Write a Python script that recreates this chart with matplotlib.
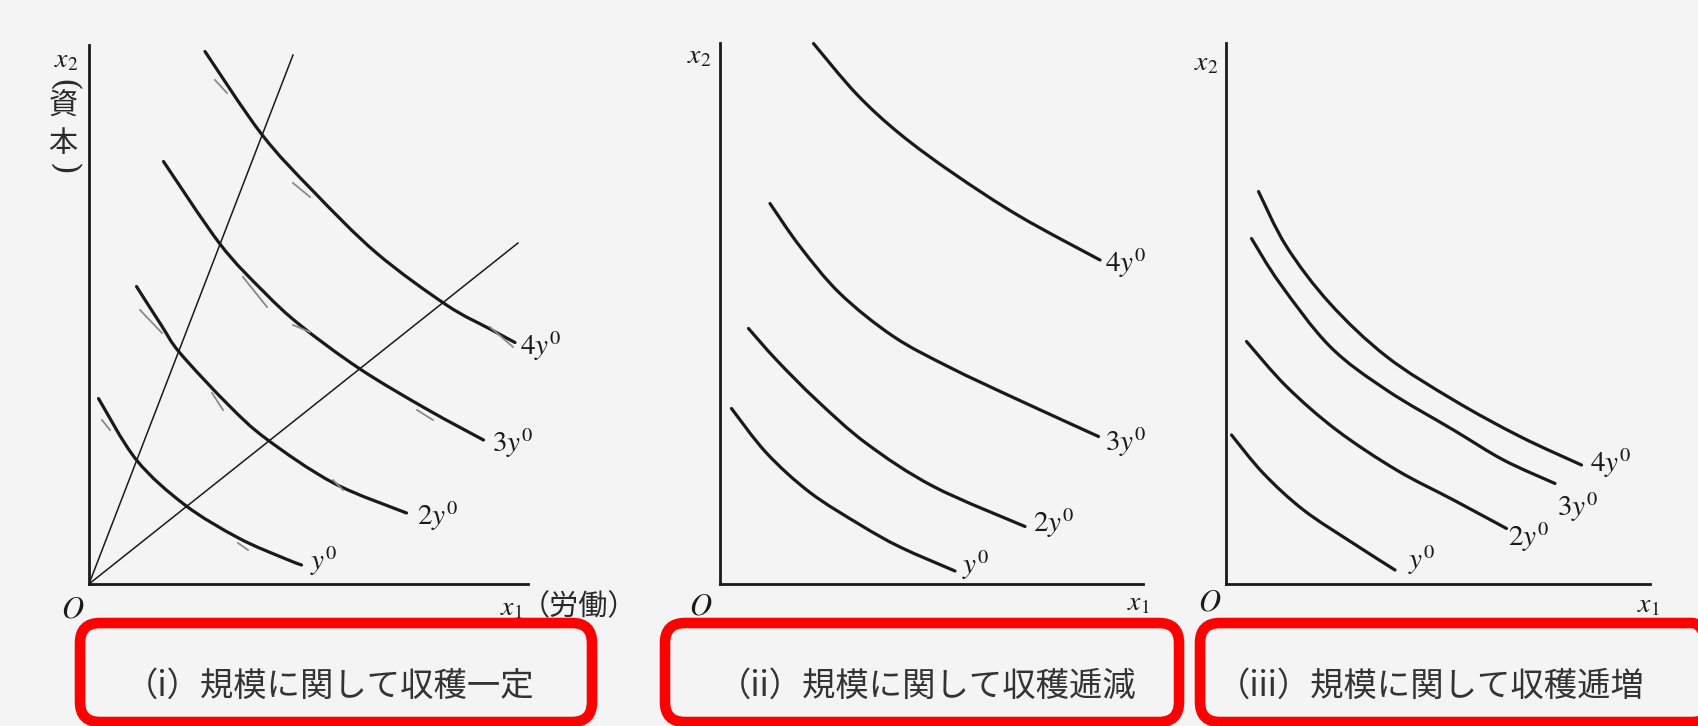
import matplotlib.pyplot as plt
from matplotlib.patches import FancyBboxPatch, PathPatch
from matplotlib.path import Path
from matplotlib.transforms import IdentityTransform

plt.rcParams['font.family'] = ['Noto Sans CJK JP', 'DejaVu Sans']
plt.rcParams['mathtext.fontset'] = 'stix'

# output levels of the isoquants
levels = ['$y^0$', '$2y^0$', '$3y^0$', '$4y^0$']
titles = ['（i）規模に関して収穫一定', '（ii）規模に関して収穫逓減', '（iii）規模に関して収穫逓増']

# (i) constant returns: isoquant points (x1, x2)
crs_y1 = [(0.19, 3.71), (0.95, 2.48), (1.92, 1.58), (2.99, 0.92), (3.89, 0.52), (4.25, 0.38)]
crs_y2 = [(0.95, 5.95), (1.45, 5.17), (1.82, 4.62), (2.79, 3.58), (3.55, 2.90), (4.89, 2.02), (6.35, 1.42)]
crs_y3 = [(1.49, 8.45), (2.62, 6.80), (3.49, 5.85), (4.22, 5.18), (5.42, 4.30), (6.75, 3.50), (7.89, 2.88)]
crs_y4 = [(2.32, 10.65), (3.45, 9.00), (4.49, 7.85), (5.75, 6.62), (7.15, 5.58), (8.02, 5.10), (8.52, 4.83)]
# rays through the origin
crs_rays = [(4.08, 10.58), (8.58, 6.82)]
# faint tangent strokes printed along the isoquants
crs_strokes = [
    ((2.52, 10.08), (2.76, 9.82)), ((4.08, 8.02), (4.42, 7.74)), ((1.02, 5.48), (1.46, 5.02)),
    ((2.46, 3.82), (2.68, 3.48)), ((0.26, 3.28), (0.42, 3.08)), ((2.98, 0.82), (3.18, 0.68)),
    ((3.08, 6.14), (3.56, 5.54)), ((4.08, 5.18), (4.42, 5.04)), ((8.02, 5.14), (8.48, 4.74)),
    ((6.56, 3.48), (6.88, 3.28)), ((4.88, 2.08), (5.08, 1.88)),
]

# (ii) decreasing returns
drs_y1 = [(0.23, 3.51), (0.93, 2.62), (1.80, 1.83), (2.81, 1.18), (3.60, 0.74), (4.70, 0.26)]
drs_y2 = [(0.57, 5.11), (1.13, 4.48), (1.93, 3.68), (2.93, 2.81), (4.27, 1.95), (6.10, 1.15)]
drs_y3 = [(1.00, 7.61), (1.60, 6.75), (2.40, 5.81), (3.47, 4.95), (4.60, 4.33), (5.93, 3.70), (7.57, 2.95)]
drs_y4 = [(1.87, 10.81), (2.73, 9.80), (3.60, 9.00), (4.67, 8.21), (6.00, 7.35), (7.60, 6.48)]

# (iii) increasing returns
irs_y1 = [(0.11, 2.98), (0.75, 2.21), (1.55, 1.48), (2.55, 0.81), (3.38, 0.28)]
irs_y2 = [(0.41, 4.85), (1.21, 3.95), (2.21, 3.08), (3.41, 2.28), (4.55, 1.68), (5.61, 1.11)]
irs_y3 = [(0.51, 6.91), (1.08, 6.01), (2.08, 4.75), (3.21, 3.88), (4.55, 3.08), (5.55, 2.48), (6.58, 2.01)]
irs_y4 = [(0.65, 7.85), (1.21, 6.75), (2.08, 5.61), (3.21, 4.55), (4.55, 3.68), (5.88, 2.95), (7.11, 2.38)]

W, H = 1699, 726
UNIT = 50  # pixels per data unit
ink = '#1a1a1a'
paper = '#f4f4f4'


def smooth_path(pts):
    # cubic bezier through every point (catmull-rom tangents)
    verts = [pts[0]]
    codes = [Path.MOVETO]
    n = len(pts)
    for k in range(n - 1):
        p0 = pts[k - 1] if k > 0 else pts[k]
        p1, p2 = pts[k], pts[k + 1]
        p3 = pts[k + 2] if k + 2 < n else pts[k + 1]
        c1 = (p1[0] + (p2[0] - p0[0]) / 6, p1[1] + (p2[1] - p0[1]) / 6)
        c2 = (p2[0] - (p3[0] - p1[0]) / 6, p2[1] - (p3[1] - p1[1]) / 6)
        verts += [c1, c2, p2]
        codes += [Path.CURVE4] * 3
    return Path(verts, codes)


fig = plt.figure(figsize=(W / 100, H / 100), dpi=100, facecolor=paper)

panels = [
    dict(origin=(89, 584), lim=(8.78, 10.78), curves=[crs_y1, crs_y2, crs_y3, crs_y4],
         label_pos=[(4.42, 0.45), (6.55, 1.35), (8.05, 2.81), (8.62, 4.75)],
         x2_pos=(-0.46, 10.50), x1_pos=(8.22, -0.46), o_pos=(-0.33, -0.50), title_x=330),
    dict(origin=(720, 584), lim=(8.46, 10.82), curves=[drs_y1, drs_y2, drs_y3, drs_y4],
         label_pos=[(4.84, 0.38), (6.26, 1.22), (7.70, 2.84), (7.70, 6.42)],
         x2_pos=(-0.42, 10.58), x1_pos=(8.14, -0.36), o_pos=(-0.38, -0.44), title_x=927),
    dict(origin=(1226, 584), lim=(8.48, 10.82), curves=[irs_y1, irs_y2, irs_y3, irs_y4],
         label_pos=[(3.64, 0.48), (5.64, 0.94), (6.62, 1.54), (7.28, 2.42)],
         x2_pos=(-0.39, 10.43), x1_pos=(8.22, -0.40), o_pos=(-0.32, -0.36), title_x=1431),
]

for i, p in enumerate(panels):
    ox, oy = p['origin']
    xmax, ymax = p['lim']
    ax = fig.add_axes([ox / W, (H - oy) / H, xmax * UNIT / W, ymax * UNIT / H])
    ax.set_xlim(0, xmax)
    ax.set_ylim(0, ymax)
    ax.patch.set_visible(False)
    for side in ['top', 'right']:
        ax.spines[side].set_visible(False)
    for side in ['left', 'bottom']:
        ax.spines[side].set_linewidth(2.0)
        ax.spines[side].set_color(ink)
    ax.set_xticks([])
    ax.set_yticks([])

    # isoquants and their output labels
    for pts, lab, (lx, ly) in zip(p['curves'], levels, p['label_pos']):
        ax.add_patch(PathPatch(smooth_path(pts), fill=False, edgecolor=ink, lw=2.3,
                               capstyle='round', joinstyle='round', clip_on=False))
        ax.text(lx, ly, lab, fontsize=21, color=ink, ha='left', va='center')

    # axis letters
    ax.text(*p['o_pos'], '$O$', fontsize=22, color=ink, ha='center', va='center')
    ax.text(*p['x2_pos'], '$x_2$', fontsize=20, color=ink, ha='center', va='center')
    ax.text(*p['x1_pos'], '$x_1$', fontsize=20, color=ink, ha='left', va='center')
    if i == 0:
        for ex, ey in crs_rays:
            ax.plot([0, ex], [0, ey], color=ink, lw=1.1, clip_on=False)
        for (a, b), (c, d) in crs_strokes:
            ax.plot([a, c], [b, d], color='#8a8a8a', lw=1.3, clip_on=False)
        # vertical "(資本)" under x2: parentheses turned on their side
        cx = -0.52
        ax.text(cx, 9.96, '(', fontsize=24, color='#2a2a2a', ha='center', va='center',
                rotation=-90, family='DejaVu Serif')
        ax.text(cx, 9.54, '資', fontsize=21, color='#2a2a2a', ha='center', va='center')
        ax.text(cx, 8.80, '本', fontsize=21, color='#2a2a2a', ha='center', va='center')
        ax.text(cx, 8.30, ')', fontsize=24, color='#2a2a2a', ha='center', va='center',
                rotation=-90, family='DejaVu Serif')
        ax.text(p['x1_pos'][0] + 0.42, p['x1_pos'][1], '（労働）', fontsize=21, color='#2a2a2a',
                ha='left', va='center')

    # caption under each panel
    fig.text(p['title_x'] / W, (H - 686) / H, titles[i], fontsize=24, color='#333333',
             ha='center', va='center')

# red rounded frames around the captions (pixel coordinates)
for x0, x1 in [(80, 592), (665, 1179), (1200, 1712)]:
    box = FancyBboxPatch((x0, 4), x1 - x0, 99, boxstyle='round,pad=0,rounding_size=20',
                         transform=IdentityTransform(), fill=False, edgecolor='#ff0000',
                         linewidth=7.6, clip_on=False)
    fig.add_artist(box)

fig.savefig('out.png', dpi=100, facecolor=paper)
